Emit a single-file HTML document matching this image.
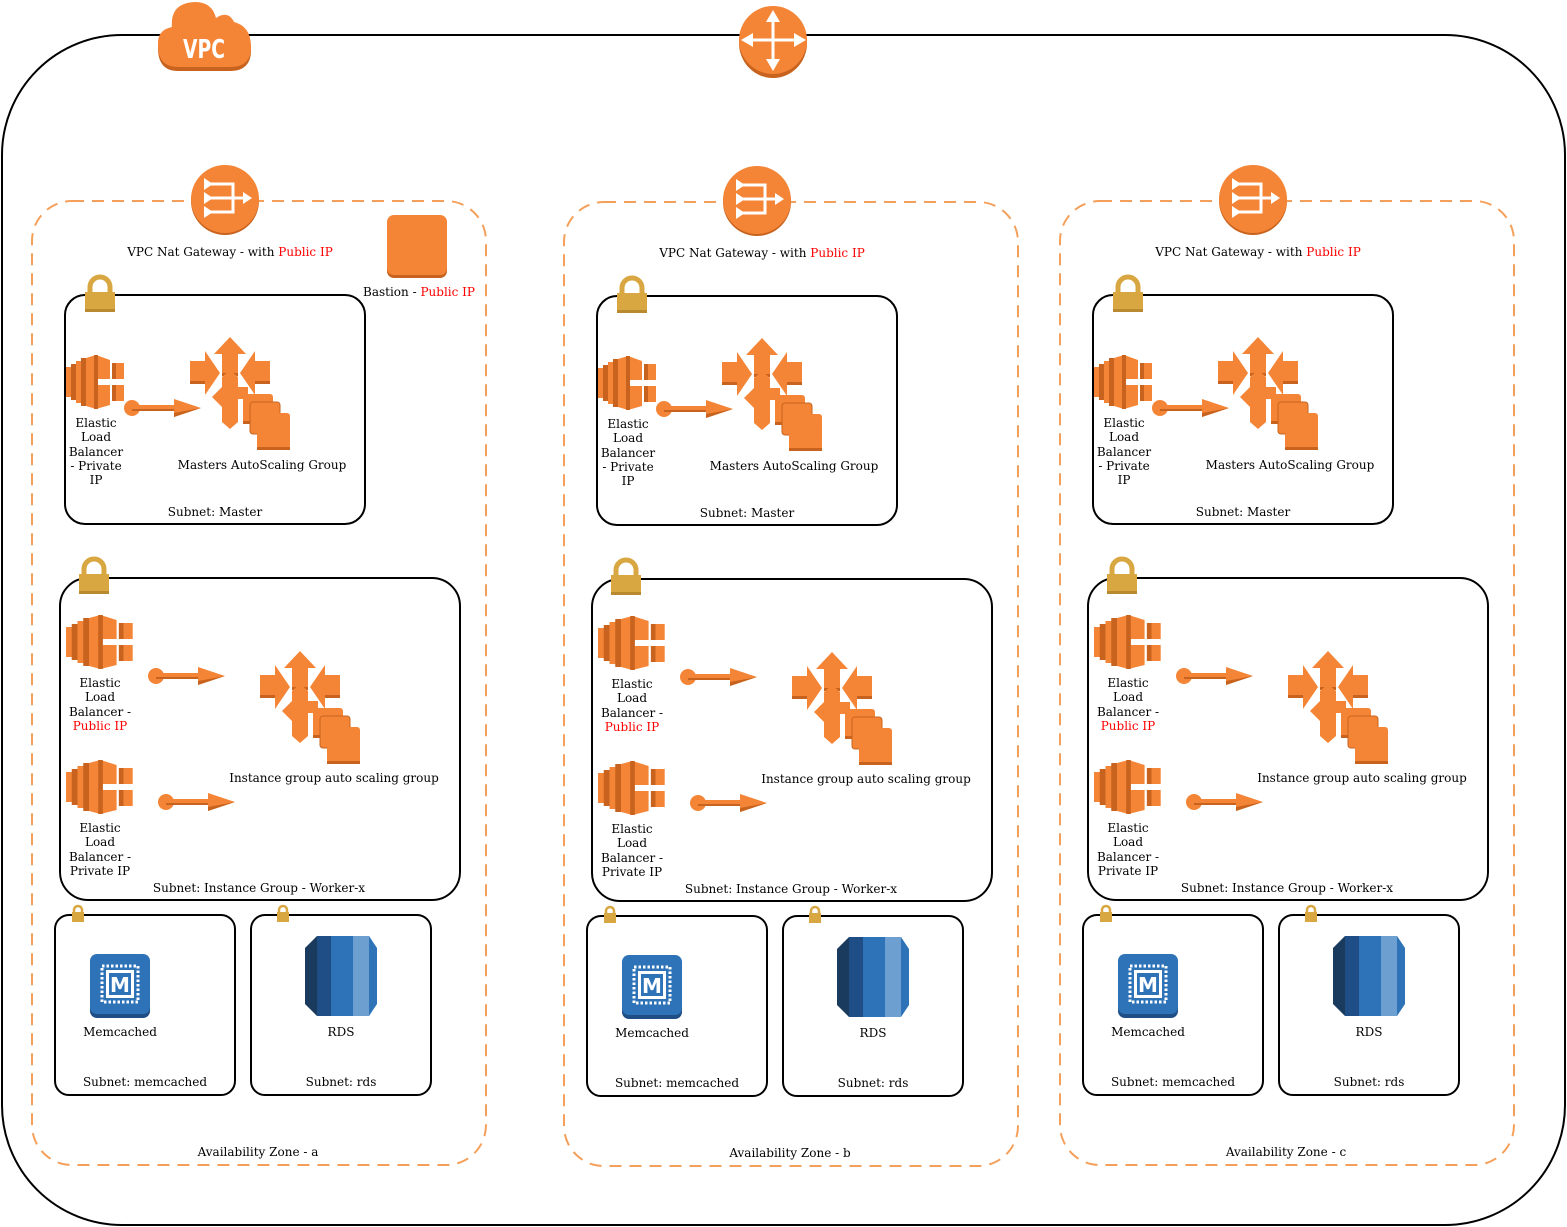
<!DOCTYPE html>
<html><head><meta charset="utf-8"><style>
html,body{margin:0;padding:0;background:#fff}
svg{display:block}
text{font-family:"DejaVu Serif","Liberation Serif",serif;font-size:12px;fill:#000}
.r{fill:#f00}
</style></head><body>
<svg width="1567" height="1227" viewBox="0 0 1567 1227" xmlns="http://www.w3.org/2000/svg">
<defs>
  <g id="lock">
    <path d="M5 14 V9 A10 10 0 0 1 25 9 V14" fill="none" stroke="#D9A741" stroke-width="5"/>
    <rect x="0" y="14" width="30" height="20" fill="#D9A741"/>
    <rect x="0" y="31" width="30" height="3" fill="#B8892E"/>
  </g>
  <g id="slock">
    <path d="M3 7 V5 A4 4 0 0 1 11 5 V7" fill="none" stroke="#D9A741" stroke-width="2.5"/>
    <rect x="1" y="7" width="12" height="10" fill="#D9A741"/>
  </g>
  <g id="elb">
    <rect x="0" y="12" width="6" height="30" fill="#F58536"/>
    <rect x="5" y="9" width="6" height="36" fill="#C7631E"/>
    <rect x="10" y="6" width="6" height="42" fill="#F58536"/>
    <rect x="15" y="3" width="6" height="48" fill="#C7631E"/>
    <polygon points="20,3 30,0 44,5 44,24 32,24 32,30 44,30 44,50 30,54 20,51" fill="#F58536"/>
    <rect x="28" y="0" width="4" height="54" fill="#C7631E"/>
    <rect x="46" y="8" width="12" height="16" fill="#F58536"/>
    <rect x="46" y="30" width="12" height="16" fill="#F58536"/>
    <rect x="46" y="8" width="4" height="16" fill="#C7631E"/>
    <rect x="46" y="30" width="4" height="16" fill="#C7631E"/>
  </g>
  <g id="conn">
    <circle cx="8" cy="0" r="8" fill="#F58536"/>
    <rect x="8" y="-3" width="45" height="6" fill="#F58536"/>
    <rect x="8" y="1" width="45" height="2" fill="#C7631E"/>
    <polygon points="50,-9 77,0 50,9" fill="#F58536"/>
    <polygon points="50,5 77,0 50,9" fill="#C7631E"/>
  </g>
  <g id="asg">
    <polygon points="40,0 56,17 48,17 48,38 32,38 32,17 24,17" fill="#F58536"/>
    <rect x="32" y="36" width="16" height="3" fill="#C7631E"/>
    <polygon points="0,24 15,24 15,14 30,36 15,58 15,46 0,46" fill="#F58536"/>
    <rect x="0" y="44" width="15" height="3" fill="#C7631E"/>
    <polygon points="80,24 65,24 65,14 50,36 65,58 65,46 80,46" fill="#F58536"/>
    <rect x="65" y="44" width="15" height="3" fill="#C7631E"/>
    <polygon points="32,40 40,33 48,40 48,50 58,50 58,62 48,62 48,85 40,92 32,85 32,70 22,60 32,50" fill="#F58536"/>
    <rect x="53" y="57" width="30" height="30" rx="3" fill="#F58536"/>
    <rect x="53" y="84" width="30" height="3" fill="#C7631E"/>
    <rect x="60" y="65" width="30" height="32" rx="3" fill="#F58536" stroke="#C7631E" stroke-width="1"/>
    <rect x="67" y="76" width="33" height="36" rx="3" fill="#F58536"/>
    <rect x="67" y="110" width="33" height="3" fill="#C7631E"/>
  </g>
  <g id="nat">
    <circle cx="0" cy="2" r="34" fill="#C7631E"/>
    <circle cx="0" cy="0" r="34" fill="#F58536"/>
    <g fill="none" stroke="#fff" stroke-width="3">
      <path d="M-16 -15 H8 V13 H-16"/>
      <path d="M-16 -1 H20"/>
    </g>
    <polygon points="-21,-21 -12,-15 -21,-9" fill="#fff"/>
    <polygon points="-21,-7 -12,-1 -21,5" fill="#fff"/>
    <polygon points="-21,7 -12,13 -21,19" fill="#fff"/>
    <polygon points="18,-7 27,-1 18,5" fill="#fff"/>
  </g>
  <g id="mem">
    <rect x="0" y="2" width="60" height="62" rx="7" fill="#1F4E86"/>
    <rect x="0" y="0" width="60" height="60" rx="7" fill="#2E73B8"/>
    <rect x="12" y="12" width="36" height="36" fill="none" stroke="#fff" stroke-width="3" stroke-dasharray="2.5 2"/>
    <rect x="16" y="16" width="28" height="28" fill="#fff"/>
    <rect x="19" y="19" width="22" height="22" fill="#2E73B8"/>
    <text x="30" y="38" text-anchor="middle" style="font-family:'DejaVu Sans',sans-serif;font-size:20px;font-weight:bold;fill:#fff">M</text>
  </g>
  <g id="rds">
    <polygon points="0,12 12,0 12,80 0,68" fill="#1A3A5E"/>
    <rect x="12" y="0" width="14" height="80" fill="#1F4E86"/>
    <rect x="26" y="0" width="22" height="80" fill="#2E73B8"/>
    <rect x="48" y="0" width="16" height="80" fill="#6D9FD0"/>
    <polygon points="64,0 72,12 72,68 64,80" fill="#2E73B8"/>
  </g>
  <g id="az">
    <rect x="32" y="201" width="454" height="964" rx="40" fill="none" stroke="#F5A05A" stroke-width="2" stroke-dasharray="12 8"/>
    <use href="#nat" x="225" y="199"/>
    <text x="230" y="256" text-anchor="middle">VPC Nat Gateway - with <tspan class="r">Public IP</tspan></text>
    <rect x="65" y="295" width="300" height="229" rx="20" fill="none" stroke="#000" stroke-width="2"/>
    <use href="#lock" x="85" y="278"/>
    <use href="#elb" x="66" y="355"/>
    <use href="#conn" x="124" y="408"/>
    <use href="#asg" x="190" y="337"/>
    <text x="96" y="427" text-anchor="middle">Elastic</text>
    <text x="96" y="441" text-anchor="middle">Load</text>
    <text x="96" y="456" text-anchor="middle">Balancer</text>
    <text x="96" y="470" text-anchor="middle">- Private</text>
    <text x="96" y="484" text-anchor="middle">IP</text>
    <text x="262" y="469" text-anchor="middle">Masters AutoScaling Group</text>
    <text x="215" y="516" text-anchor="middle">Subnet: Master</text>
    <rect x="60" y="578" width="400" height="322" rx="28" fill="none" stroke="#000" stroke-width="2"/>
    <use href="#lock" x="79" y="560"/>
    <use href="#elb" x="66" y="615" transform="translate(66,615) scale(1.15,1) translate(-66,-615)"/>
    <use href="#conn" x="148" y="676"/>
    <use href="#asg" x="260" y="651"/>
    <text x="100" y="687" text-anchor="middle">Elastic</text>
    <text x="100" y="701" text-anchor="middle">Load</text>
    <text x="100" y="716" text-anchor="middle">Balancer -</text>
    <text x="100" y="730" text-anchor="middle" class="r">Public IP</text>
    <use href="#elb" x="66" y="760" transform="translate(66,760) scale(1.15,1) translate(-66,-760)"/>
    <use href="#conn" x="158" y="802"/>
    <text x="100" y="832" text-anchor="middle">Elastic</text>
    <text x="100" y="846" text-anchor="middle">Load</text>
    <text x="100" y="861" text-anchor="middle">Balancer -</text>
    <text x="100" y="875" text-anchor="middle">Private IP</text>
    <text x="334" y="782" text-anchor="middle">Instance group auto scaling group</text>
    <text x="259" y="892" text-anchor="middle">Subnet: Instance Group - Worker-x</text>
    <rect x="55" y="915" width="180" height="180" rx="14" fill="none" stroke="#000" stroke-width="2"/>
    <use href="#slock" x="71" y="905"/>
    <use href="#mem" x="90" y="954"/>
    <text x="120" y="1036" text-anchor="middle">Memcached</text>
    <text x="145" y="1086" text-anchor="middle">Subnet: memcached</text>
    <rect x="251" y="915" width="180" height="180" rx="14" fill="none" stroke="#000" stroke-width="2"/>
    <use href="#slock" x="276" y="905"/>
    <use href="#rds" x="305" y="936"/>
    <text x="341" y="1036" text-anchor="middle">RDS</text>
    <text x="341" y="1086" text-anchor="middle">Subnet: rds</text>
  </g>
</defs>
<rect x="2" y="35" width="1563" height="1190" rx="120" fill="none" stroke="#000" stroke-width="2"/>
<g>
  <path d="M158 48 Q157 33 172 30 Q170 5 195 4 Q212 4 216 20 Q228 12 234 24 Q250 28 251 48 Q252 71 230 71 H178 Q158 71 158 48Z" fill="#C7631E"/>
  <path d="M158 45 Q157 30 172 27 Q170 3 195 2 Q212 2 216 18 Q228 10 234 22 Q250 26 251 45 Q252 67 230 67 H178 Q158 67 158 45Z" fill="#F58536"/>
  <text x="204" y="58" text-anchor="middle" style="font-family:'DejaVu Sans Condensed','Liberation Sans Narrow',sans-serif;font-size:26px;fill:#fff;font-weight:bold" transform="translate(204,0) scale(0.8,1) translate(-204,0)">VPC</text>
</g>
<g>
  <ellipse cx="773" cy="43" rx="34" ry="35" fill="#C7631E"/>
  <ellipse cx="773" cy="40" rx="34" ry="34" fill="#F58536"/>
  <g stroke="#fff" stroke-width="3"><path d="M773 20 V62"/><path d="M750 40 H796"/></g>
  <polygon points="773,10 766,22 780,22" fill="#fff"/>
  <polygon points="773,71 766,59 780,59" fill="#fff"/>
  <polygon points="741,40 753,33 753,47" fill="#fff"/>
  <polygon points="806,40 794,33 794,47" fill="#fff"/>
</g>
<use href="#az"/>
<use href="#az" x="532" y="1"/>
<use href="#az" x="1028"/>
<rect x="387" y="218" width="60" height="60" rx="7" fill="#C7631E"/>
<rect x="387" y="215" width="60" height="60" rx="7" fill="#F58536"/>
<text x="419" y="296" text-anchor="middle">Bastion - <tspan class="r">Public IP</tspan></text>
<text x="258" y="1156" text-anchor="middle">Availability Zone - a</text>
<text x="790" y="1157" text-anchor="middle">Availability Zone - b</text>
<text x="1286" y="1156" text-anchor="middle">Availability Zone - c</text>
</svg>
</body></html>
